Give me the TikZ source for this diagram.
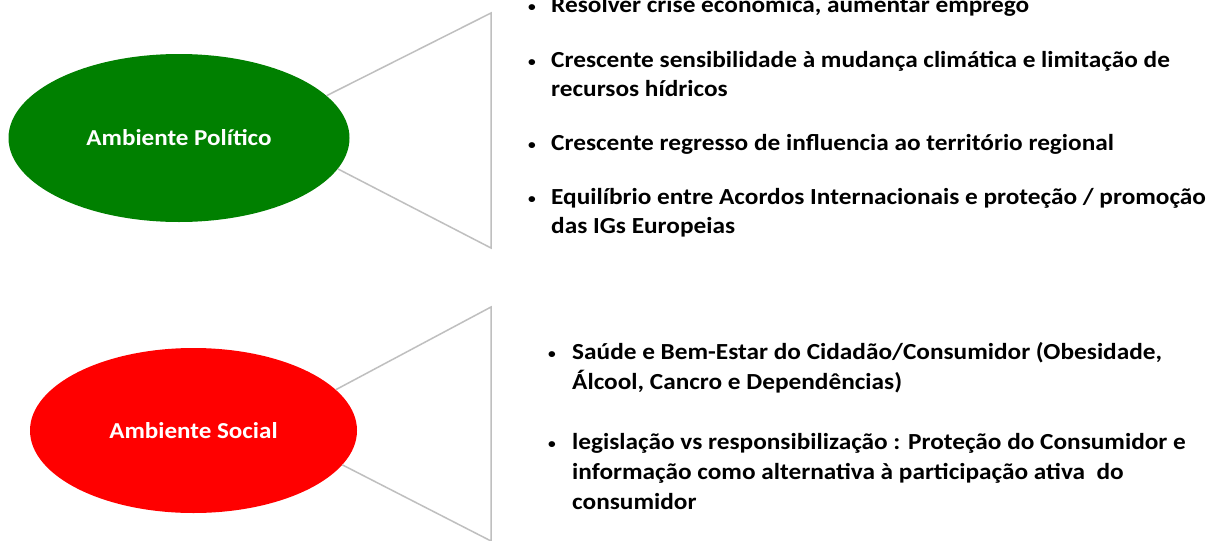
\documentclass[tikz,border=0pt]{standalone}
\usepackage{fontspec}
\setmainfont{Carlito}[FakeStretch=1.1]
\usetikzlibrary{shapes.geometric}
\definecolor{polgreen}{RGB}{0,128,0}
\definecolor{socred}{RGB}{255,0,0}
\definecolor{linegray}{RGB}{191,191,191}
\begin{document}
\begin{tikzpicture}[x=1pt,y=-1pt,
  env/.style={ellipse, inner sep=0pt, text=white, font=\fontsize{22.8}{26}\selectfont\bfseries},
  conn/.style={draw=linegray, line width=1.5pt},
  bul/.style={anchor=base, inner sep=0pt, font=\fontsize{14}{16}\selectfont\bfseries},
  itemtop/.style={anchor=base west, inner sep=0pt, align=left, font=\fontsize{23}{28.5}\selectfont\bfseries},
  itembot/.style={anchor=base west, inner sep=0pt, align=left, font=\fontsize{23}{30}\selectfont\bfseries},
]
\useasboundingbox[fill=white] (0,0) rectangle (1216,541);

% ellipses
\node[env, fill=polgreen, minimum width=341pt, minimum height=168pt] (pol) at (179,138) {Ambiente Político};
\node[env, fill=socred, minimum width=327pt, minimum height=165pt] (soc) at (193.5,430.5) {Ambiente Social};

% triangle corners
\coordinate (pt) at (491,13);
\coordinate (pb) at (491,248);
\coordinate (st) at (491,307);
\coordinate (sb) at (491,541);

\draw[conn] (pol.16.5) -- (pt) -- (pb) -- (pol.-11.8);
\draw[conn] (soc.16.1) -- (st) -- (sb) -- (soc.-13.4);

% political items (anchor = baseline of the last line)
\node[bul] (b1) at (532,11.5) {•};
\node[itemtop] (t1) at (551,12.5) {Resolver crise económica, aumentar emprego};
\node[bul] (b2) at (532,66.5) {•};
\node[itemtop] (t2) at (551,96) {Crescente sensibilidade à mudança climática e limitação de\\recursos hídricos};
\node[bul] (b3) at (532,149) {•};
\node[itemtop] (t3) at (551,150) {Crescente regresso de influencia ao território regional};
\node[bul] (b4) at (532,203.5) {•};
\node[itemtop] (t4) at (551,233) {Equilíbrio entre Acordos Internacionais e proteção / promoção\\das IGs Europeias};

% social items
\node[bul] (b5) at (552,358) {•};
\node[itembot] (t5) at (572,389) {Saúde e Bem-Estar do Cidadão/Consumidor (Obesidade,\\Álcool, Cancro e Dependências)};
\node[bul] (b6) at (552,448) {•};
\node[itembot] (t6) at (572,509) {legislação vs responsibilização : Proteção do Consumidor e\\informação como alternativa à participação ativa \ do\\consumidor};
\end{tikzpicture}
\end{document}
